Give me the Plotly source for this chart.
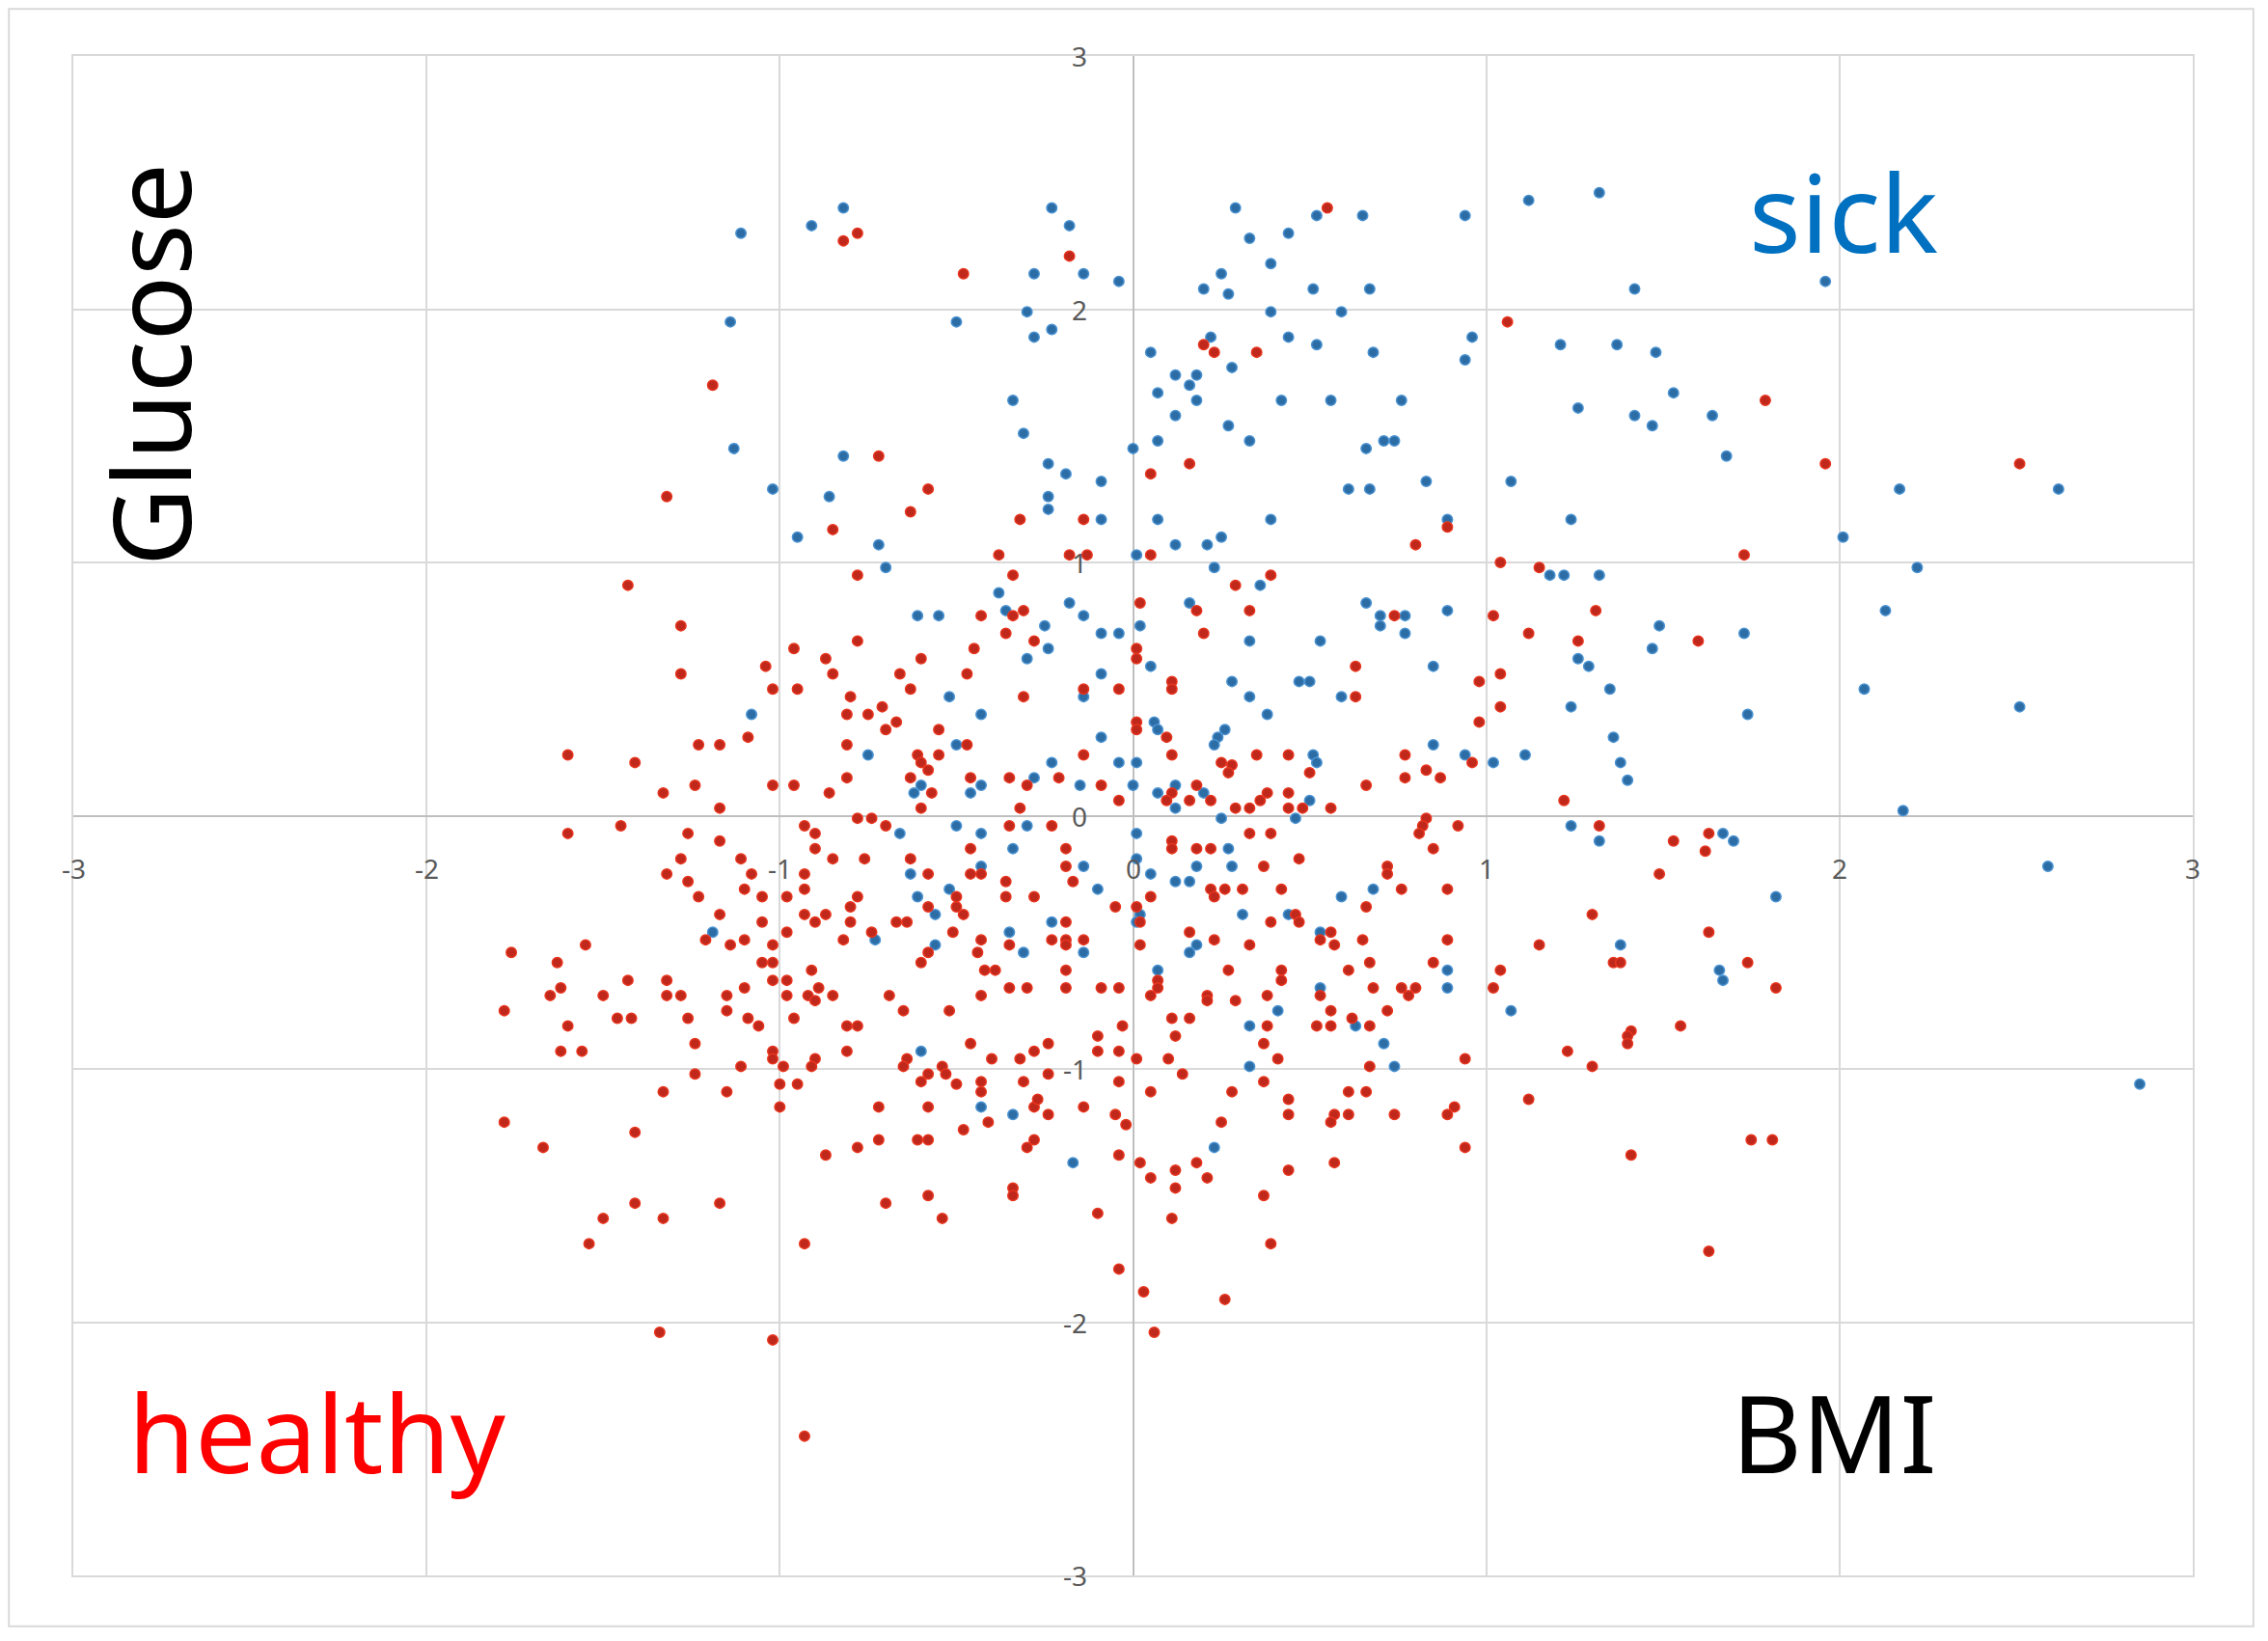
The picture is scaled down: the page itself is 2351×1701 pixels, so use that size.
import plotly.graph_objects as go

# BMI / Glucose (standardised)
healthy_points = [
    (-0.82, 2.27), (-0.78, 2.30), (-0.48, 2.14), (-1.19, 1.70), (-0.72, 1.42), (-0.58, 1.29), (-1.32, 1.26),
    (-0.63, 1.20), (-0.32, 1.17), (-0.85, 1.13), (-0.38, 1.03), (-0.78, 0.95), (-0.34, 0.95), (-1.43, 0.91),
    (-0.18, 2.21), (0.55, 2.40), (1.06, 1.95), (0.20, 1.86), (0.23, 1.83), (0.35, 1.83), (0.05, 1.35),
    (0.16, 1.39), (-0.14, 1.17), (0.89, 1.14), (0.80, 1.07), (-0.18, 1.03), (-0.13, 1.03), (0.05, 1.03),
    (1.04, 1.00), (1.15, 0.98), (0.39, 0.95), (0.29, 0.91),
    (1.79, 1.64), (1.96, 1.39), (2.51, 1.39), (1.73, 1.03),
    (-1.28, 0.75), (-1.28, 0.56), (-0.96, 0.66), (-1.04, 0.59), (-1.02, 0.50), (-0.95, 0.50), (-0.87, 0.62),
    (-0.85, 0.56), (-0.78, 0.69), (-0.80, 0.47), (-0.81, 0.40), (-0.75, 0.40), (-0.71, 0.43), (-0.70, 0.34),
    (-0.67, 0.37), (-0.66, 0.56), (-0.63, 0.50), (-0.60, 0.62),
    (-0.43, 0.79), (-0.34, 0.79), (-0.31, 0.81), (-0.36, 0.72), (-0.45, 0.66), (-0.47, 0.56), (-0.28, 0.69),
    (-0.31, 0.47), (-0.55, 0.34), (-0.47, 0.28),
    (-1.09, 0.31), (-1.23, 0.28), (-1.17, 0.28), (-1.60, 0.24), (-1.41, 0.21), (-0.81, 0.28), (-0.61, 0.24),
    (-0.55, 0.24), (-0.60, 0.21), (-0.58, 0.18), (-0.63, 0.15), (-0.57, 0.09), (-0.46, 0.15), (-0.35, 0.15),
    (-0.30, 0.12), (-1.24, 0.12), (-1.33, 0.09), (-1.02, 0.12), (-0.96, 0.12), (-0.86, 0.09), (-0.81, 0.15),
    (-1.17, 0.03), (-0.60, 0.03), (-0.32, 0.03),
    (-1.60, -0.07), (-1.45, -0.04), (-1.26, -0.07), (-1.17, -0.10), (-0.93, -0.04), (-0.90, -0.07),
    (-0.78, -0.01), (-0.74, -0.01), (-0.70, -0.04), (-0.35, -0.04),
    (-0.46, -0.13), (-0.90, -0.13), (-0.85, -0.17), (-0.76, -0.17), (-0.63, -0.17), (-1.28, -0.17),
    (-1.11, -0.17), (-1.32, -0.23), (-1.08, -0.23), (-0.93, -0.23), (-0.58, -0.23), (-0.46, -0.23),
    (-0.43, -0.23), (-1.26, -0.26), (-1.10, -0.29), (-0.93, -0.29), (-1.23, -0.32), (-1.05, -0.32),
    (-0.98, -0.32), (-0.50, -0.32), (-0.36, -0.26), (-0.36, -0.32), (-0.28, -0.32), (-0.78, -0.32),
    (-0.80, -0.36), (-0.58, -0.36), (-0.50, -0.36), (-0.48, -0.39), (-1.17, -0.39), (-0.93, -0.39),
    (-0.90, -0.42), (-0.87, -0.39), (-1.05, -0.42), (-0.80, -0.42), (-0.67, -0.42), (-0.64, -0.42),
    (-0.74, -0.46), (-1.21, -0.49), (-1.14, -0.51), (-1.10, -0.49), (-0.98, -0.46), (-1.02, -0.51),
    (-0.82, -0.49), (-0.51, -0.46), (-0.43, -0.49), (-0.35, -0.51), (-0.58, -0.54), (-0.60, -0.58),
    (-0.44, -0.54), (-1.76, -0.54), (-1.55, -0.51), (-1.63, -0.58), (-1.05, -0.58), (-1.02, -0.58),
    (-0.91, -0.61), (-0.42, -0.61), (-0.39, -0.61),
    (-1.43, -0.65), (-1.32, -0.65), (-1.02, -0.65), (-0.98, -0.65), (-1.62, -0.68), (-1.65, -0.71),
    (-1.50, -0.71), (-1.32, -0.71), (-1.28, -0.71), (-1.15, -0.71), (-1.10, -0.68), (-0.98, -0.71),
    (-0.92, -0.71), (-0.89, -0.68), (-0.90, -0.73), (-0.85, -0.71), (-0.69, -0.71), (-0.43, -0.71),
    (-0.35, -0.68), (-0.30, -0.68), (-1.78, -0.77), (-1.15, -0.77), (-0.65, -0.77), (-0.52, -0.77),
    (-1.46, -0.80), (-1.42, -0.80), (-1.26, -0.80), (-1.09, -0.80), (-0.96, -0.80), (-1.60, -0.83),
    (-1.06, -0.83), (-0.81, -0.83), (-0.78, -0.83),
    (0.02, 0.84), (0.18, 0.81), (0.33, 0.81), (0.74, 0.79), (1.02, 0.79), (1.31, 0.81), (0.20, 0.72),
    (1.12, 0.72), (1.26, 0.69), (0.01, 0.66), (0.01, 0.62), (0.63, 0.59), (1.04, 0.56), (-0.14, 0.50),
    (-0.04, 0.50), (0.11, 0.53), (0.11, 0.50), (0.63, 0.47), (0.98, 0.53), (1.04, 0.43),
    (0.01, 0.37), (0.01, 0.34), (0.095, 0.31), (0.98, 0.37), (-0.14, 0.24), (0.11, 0.24), (0.35, 0.24),
    (0.44, 0.24), (0.25, 0.21), (0.28, 0.20), (0.27, 0.17), (0.50, 0.17), (0.77, 0.24), (0.96, 0.21),
    (-0.21, 0.15), (-0.09, 0.12), (0.66, 0.12), (0.77, 0.15), (0.83, 0.18), (0.87, 0.15), (-0.04, 0.06),
    (0.11, 0.09), (0.095, 0.06), (0.16, 0.06), (0.18, 0.12), (0.22, 0.06), (0.29, 0.03), (0.33, 0.03),
    (0.36, 0.06), (0.38, 0.09), (0.44, 0.09), (0.44, 0.03), (0.48, 0.03), (0.56, 0.03),
    (1.22, 0.06), (0.83, -0.01), (0.82, -0.04), (0.81, -0.07), (0.92, -0.04), (1.32, -0.04),
    (-0.23, -0.04), (0.33, -0.07), (0.39, -0.07), (-0.19, -0.13), (0.11, -0.10), (0.11, -0.13),
    (0.18, -0.13), (0.22, -0.13), (0.85, -0.13),
    (-0.19, -0.20), (0.37, -0.20), (0.47, -0.17), (0.72, -0.20), (0.72, -0.23), (-0.17, -0.26),
    (0.22, -0.29), (0.26, -0.29), (0.23, -0.32), (0.31, -0.29), (0.42, -0.29), (0.76, -0.29),
    (0.89, -0.29), (0.66, -0.36), (0.05, -0.32), (-0.05, -0.36), (0.01, -0.36),
    (1.30, -0.39), (0.46, -0.39), (0.47, -0.42), (0.39, -0.42), (-0.19, -0.42), (0.02, -0.42),
    (0.16, -0.46), (0.56, -0.46), (-0.23, -0.49), (-0.19, -0.49), (-0.19, -0.51), (-0.14, -0.49),
    (0.02, -0.51), (0.23, -0.49), (0.33, -0.51), (0.53, -0.49), (0.57, -0.51), (0.65, -0.49),
    (0.89, -0.49), (1.15, -0.51),
    (1.36, -0.58), (0.67, -0.58), (0.85, -0.58), (1.04, -0.61), (-0.19, -0.61), (0.07, -0.65),
    (0.07, -0.68), (0.27, -0.61), (0.42, -0.61), (0.42, -0.65), (0.61, -0.61), (-0.19, -0.68),
    (-0.09, -0.68), (-0.04, -0.68), (0.05, -0.71), (0.21, -0.71), (0.21, -0.73), (0.29, -0.73),
    (0.38, -0.71), (0.53, -0.71), (0.68, -0.68), (0.76, -0.68), (0.80, -0.68), (0.78, -0.71),
    (1.02, -0.68), (0.56, -0.77), (0.72, -0.77), (0.11, -0.80), (0.16, -0.80), (0.62, -0.80),
    (-0.03, -0.83), (0.38, -0.83), (0.52, -0.83), (0.56, -0.83), (0.67, -0.83),
    (1.60, 0.69), (1.53, -0.10), (1.63, -0.07), (1.62, -0.14), (1.49, -0.23), (1.63, -0.46),
    (1.38, -0.58), (1.74, -0.58), (1.82, -0.68), (1.55, -0.83), (1.41, -0.85),
    (-1.62, -0.93), (-1.56, -0.93), (-1.24, -0.90), (-1.02, -0.93), (-1.02, -0.96), (-0.99, -0.99),
    (-0.90, -0.96), (-0.91, -0.99), (-1.11, -0.99), (-0.81, -0.93), (-0.64, -0.96), (-0.65, -0.99),
    (-0.46, -0.90), (-0.40, -0.96), (-0.32, -0.96), (-0.28, -0.93),
    (-1.24, -1.02), (-1.00, -1.06), (-0.95, -1.06), (-0.60, -1.05), (-0.58, -1.02), (-0.54, -0.99),
    (-0.53, -1.02), (-0.50, -1.06), (-0.43, -1.05), (-0.43, -1.09), (-0.31, -1.05), (-1.33, -1.09),
    (-1.15, -1.09), (-1.00, -1.15), (-0.72, -1.15), (-0.58, -1.15), (-0.28, -1.15), (-0.27, -1.12),
    (-0.41, -1.21), (-0.48, -1.24), (-0.72, -1.28), (-0.61, -1.28), (-0.58, -1.28), (-0.78, -1.31),
    (-0.87, -1.34), (-0.28, -1.28), (-0.30, -1.31),
    (-1.78, -1.21), (-1.41, -1.25), (-1.67, -1.31), (-1.41, -1.53), (-1.50, -1.59), (-1.33, -1.59),
    (-1.17, -1.53), (-1.54, -1.69), (-0.93, -1.69), (-0.70, -1.53), (-0.58, -1.50), (-0.54, -1.59),
    (-0.34, -1.47), (-0.34, -1.50), (-1.34, -2.04), (-1.02, -2.07), (-0.93, -2.45),
    (-0.24, -0.90), (-0.10, -0.87), (-0.10, -0.93), (-0.04, -0.93), (0.01, -0.96), (0.10, -0.96),
    (0.12, -0.87), (0.37, -0.90), (0.41, -0.96), (0.67, -0.99), (0.94, -0.96), (1.23, -0.93), (1.30, -0.99),
    (-0.24, -1.02), (-0.04, -1.05), (0.14, -1.02), (0.05, -1.09), (0.28, -1.09), (0.37, -1.05),
    (0.44, -1.12), (0.44, -1.18), (0.61, -1.09), (0.66, -1.09), (1.12, -1.12), (-0.24, -1.18),
    (-0.14, -1.15), (-0.05, -1.18), (-0.02, -1.22), (0.25, -1.21), (0.57, -1.18), (0.56, -1.21),
    (0.61, -1.18), (0.74, -1.18), (0.91, -1.15), (0.89, -1.18), (0.94, -1.31),
    (-0.04, -1.34), (0.02, -1.37), (0.12, -1.40), (0.18, -1.37), (0.05, -1.43), (0.21, -1.43),
    (0.12, -1.47), (0.44, -1.40), (0.57, -1.37), (0.37, -1.50), (-0.10, -1.57), (0.11, -1.59),
    (0.39, -1.69), (-0.04, -1.79), (0.03, -1.88), (0.26, -1.91), (0.06, -2.04),
    (1.40, -0.87), (1.40, -0.90), (1.41, -1.34), (1.75, -1.28), (1.81, -1.28), (1.63, -1.72),
]

sick_points = [
    (-1.11, 2.30), (-0.91, 2.33), (-0.82, 2.40), (-0.28, 2.14), (-1.14, 1.95), (-0.50, 1.95), (-0.30, 1.99),
    (-0.28, 1.89), (-0.34, 1.64), (-0.31, 1.51), (-1.13, 1.45), (-0.82, 1.42), (-1.02, 1.29), (-0.86, 1.26),
    (-0.95, 1.10), (-0.72, 1.07), (-0.70, 0.98), (-0.38, 0.88),
    (-0.23, 2.40), (-0.18, 2.33), (-0.14, 2.14), (-0.04, 2.11), (0.29, 2.40), (0.52, 2.37), (0.65, 2.37),
    (0.94, 2.37), (1.12, 2.43), (1.32, 2.46), (0.33, 2.28), (0.44, 2.30), (0.39, 2.18), (0.25, 2.14),
    (0.20, 2.08), (0.27, 2.06), (0.51, 2.08), (0.67, 2.08), (0.39, 1.99), (0.59, 1.99), (-0.23, 1.92),
    (0.22, 1.89), (0.05, 1.83), (0.44, 1.89), (0.52, 1.86), (0.68, 1.83), (0.96, 1.89), (0.94, 1.80),
    (1.21, 1.86), (1.37, 1.86),
    (0.28, 1.77), (0.12, 1.74), (0.18, 1.74), (0.16, 1.70), (0.07, 1.67), (0.18, 1.64), (0.42, 1.64),
    (0.56, 1.64), (0.76, 1.64), (1.26, 1.61), (0.12, 1.58), (0.27, 1.54), (0.33, 1.48), (0.07, 1.48),
    (0.00, 1.45), (0.66, 1.45), (0.71, 1.48), (0.74, 1.48),
    (-0.24, 1.39), (-0.19, 1.35), (-0.09, 1.32), (0.61, 1.29), (0.67, 1.29), (0.83, 1.32), (1.07, 1.32),
    (-0.24, 1.26), (-0.24, 1.21), (-0.09, 1.17), (0.07, 1.17), (0.39, 1.17), (0.89, 1.17), (1.24, 1.17),
    (0.12, 1.07), (0.21, 1.07), (0.25, 1.10), (0.01, 1.03), (1.18, 0.95), (1.22, 0.95), (1.32, 0.95),
    (0.23, 0.98), (0.36, 0.91),
    (1.42, 2.08), (1.96, 2.11), (1.48, 1.83), (1.53, 1.67), (1.42, 1.58), (1.47, 1.54), (1.64, 1.58),
    (1.68, 1.42), (2.17, 1.29), (2.62, 1.29), (2.01, 1.10), (2.22, 0.98),
    (-0.61, 0.79), (-0.55, 0.79), (-0.36, 0.81), (-0.30, 0.62), (-0.52, 0.47), (-0.43, 0.40), (-0.50, 0.28),
    (-1.08, 0.40), (-0.75, 0.24), (-0.60, 0.12), (-0.62, 0.09), (-0.43, 0.12), (-0.46, 0.09), (-0.28, 0.15),
    (-0.66, -0.07), (-0.50, -0.04), (-0.43, -0.07), (-0.30, -0.04), (-0.34, -0.13), (-0.63, -0.23),
    (-0.43, -0.20), (-0.52, -0.29), (-0.61, -0.32), (-0.56, -0.39), (-0.73, -0.49), (-1.19, -0.46),
    (-0.35, -0.46), (-0.56, -0.51), (-0.31, -0.54),
    (-0.18, 0.84), (0.16, 0.84), (0.66, 0.84), (0.70, 0.79), (0.77, 0.79), (0.70, 0.75), (0.77, 0.72),
    (0.89, 0.81), (-0.25, 0.75), (-0.14, 0.79), (-0.09, 0.72), (-0.04, 0.72), (0.02, 0.75), (0.33, 0.69),
    (0.53, 0.69), (-0.24, 0.66), (0.05, 0.59), (-0.09, 0.56), (0.85, 0.59), (1.26, 0.62), (1.29, 0.59),
    (-0.14, 0.47), (0.28, 0.53), (0.47, 0.53), (0.50, 0.53), (0.33, 0.47), (0.59, 0.47), (1.24, 0.43),
    (1.35, 0.50), (0.38, 0.40), (0.06, 0.37), (0.07, 0.34), (0.26, 0.34), (0.24, 0.31), (0.23, 0.28),
    (-0.09, 0.31), (1.36, 0.31), (0.51, 0.24), (0.52, 0.21), (0.85, 0.28), (0.94, 0.24), (1.02, 0.21),
    (1.11, 0.24), (-0.23, 0.21), (-0.04, 0.21), (0.01, 0.21), (-0.15, 0.12), (0.00, 0.12), (0.07, 0.09),
    (0.12, 0.12), (0.20, 0.09), (0.12, 0.03), (0.50, 0.06), (0.25, -0.01), (0.46, -0.01), (1.24, -0.04),
    (1.32, -0.10), (0.01, -0.07), (0.27, -0.13), (-0.14, -0.20), (0.01, -0.17), (0.18, -0.20),
    (0.28, -0.20), (-0.10, -0.29), (0.05, -0.23), (0.12, -0.26), (0.16, -0.26), (0.68, -0.29),
    (0.59, -0.32), (0.02, -0.39), (0.31, -0.39), (0.44, -0.39), (-0.23, -0.42), (0.01, -0.42),
    (0.53, -0.46), (-0.14, -0.54), (0.18, -0.51), (0.16, -0.54), (0.89, -0.61), (0.07, -0.61),
    (0.53, -0.68), (0.89, -0.68), (0.41, -0.77), (1.07, -0.77), (0.33, -0.83), (0.63, -0.83),
    (1.49, 0.75), (1.47, 0.66), (1.73, 0.72), (1.74, 0.40), (2.13, 0.81), (2.07, 0.50), (2.51, 0.43),
    (1.38, 0.21), (1.40, 0.14), (2.18, 0.02), (1.67, -0.07), (1.70, -0.10), (2.59, -0.20), (1.82, -0.32),
    (1.38, -0.51), (1.66, -0.61), (1.67, -0.65),
    (-0.60, -0.93), (-0.43, -1.15), (-0.34, -1.18),
    (0.33, -0.99), (0.71, -0.90), (0.74, -0.99), (-0.17, -1.37), (0.23, -1.31),
    (2.85, -1.06),
]

tick_values = [-3, -2, -1, 0, 1, 2, 3]
tick_labels = ["-3", "-2", "-1", "0", "1", "2", "3"]

healthy_bmi, healthy_glucose = zip(*healthy_points)
sick_bmi, sick_glucose = zip(*sick_points)

fig = go.Figure()
fig.add_trace(go.Scatter(x=sick_bmi, y=sick_glucose, mode="markers", name="sick",
                         marker=dict(size=10.5, color="#2d6da6", line=dict(color="#4b93d2", width=1.5))))
fig.add_trace(go.Scatter(x=healthy_bmi, y=healthy_glucose, mode="markers", name="healthy",
                         marker=dict(size=10.5, color="#c0281c", line=dict(color="#e8361f", width=1.5))))

axis_style = dict(range=[-3, 3], tickvals=tick_values, showticklabels=False, showgrid=True,
                  gridcolor="#d9d9d9", gridwidth=2, zeroline=True, zerolinecolor="#bfbfbf",
                  zerolinewidth=2, showline=True, mirror=True, linecolor="#d9d9d9", linewidth=2)
fig.update_xaxes(**axis_style)
fig.update_yaxes(**axis_style)

tick_font = dict(family="Noto Sans", size=28, color="#595959")
annotations = []
for v, lab in zip(tick_values, tick_labels):
    # Excel style labels sitting next to the axes through zero
    annotations.append(dict(x=v, y=0, text=lab, showarrow=False, font=tick_font,
                            xanchor="center", yanchor="middle", yshift=-54))
    annotations.append(dict(x=0, y=v, text=lab, showarrow=False, font=tick_font,
                            xanchor="right", yanchor="middle", xshift=-46))

big_font = dict(family="Noto Sans", size=112)
annotations += [
    dict(x=-2.785, y=1.78, text="Glucose", textangle=-90, showarrow=False,
         font=dict(big_font, color="black"), xanchor="center", yanchor="middle"),
    dict(x=2.01, y=2.39, text="sick", showarrow=False,
         font=dict(big_font, color="#0070c0"), xanchor="center", yanchor="middle"),
    dict(x=-2.31, y=-2.43, text="healthy", showarrow=False,
         font=dict(big_font, color="#ff0000"), xanchor="center", yanchor="middle"),
    dict(x=1.985, y=-2.43, text="BMI", showarrow=False,
         font=dict(big_font, color="black"), xanchor="center", yanchor="middle"),
]

fig.update_layout(
    width=2351, height=1701,
    margin=dict(l=76, r=78, t=58, b=68),
    paper_bgcolor="white", plot_bgcolor="white",
    showlegend=False,
    annotations=annotations,
    shapes=[dict(type="rect", xref="paper", yref="paper", x0=-0.0304, x1=1.0286, y0=-0.0335, y1=1.031,
                 line=dict(color="#d9d9d9", width=2), layer="below")],
)

fig.write_html("out.html", config={"displayModeBar": False},
               post_script="document.body.style.margin='0';")
